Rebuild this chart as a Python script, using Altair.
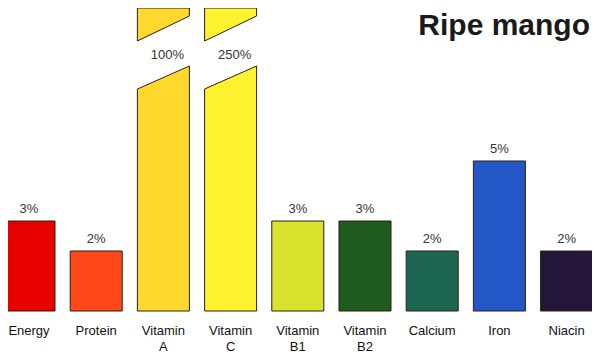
import altair as alt
import pandas as pd

# ---- data ----
nutrients = ["Energy", "Protein", "Vitamin\nA", "Vitamin\nC", "Vitamin\nB1",
             "Vitamin\nB2", "Calcium", "Iron", "Niacin"]
percent = [3, 2, 100, 250, 3, 3, 2, 5, 2]
bar_colors = ["#e60000", "#ff4719", "#ffd82e", "#fff22e", "#d9e22c",
              "#1f5a1f", "#1d6651", "#2356c6", "#22173a"]
title_text = "Ripe mango"

# ---- layout / style constants ----
W, H = 584, 349
BASE_PX = 303          # pixel row of the zero line
PPU = 30.0             # pixels per percent
CAP = 10               # values above this are drawn as broken bars
HALF = 0.387           # half bar width in index units
X_DOMAIN = [-0.3125, 8.378]
Y_DOMAIN = [-(H - BASE_PX) / PPU, BASE_PX / PPU]
BREAK_LOW = (7.4, 8.1667)     # top of lower piece (left, right)
BREAK_UP = (9.0, 9.8333)      # bottom of upper piece (left, right)
GAP_LABEL = 8.53
FONT = "Liberation Sans"
STROKE = "#2a2010"

df = pd.DataFrame({"name": nutrients, "pct": percent})
df["i"] = range(len(df))
df["x0"] = df["i"] - HALF
df["x1"] = df["i"] + HALF
df["label"] = df["pct"].astype(str) + "%"

normal = df[df["pct"] <= CAP]
broken = df[df["pct"] > CAP]

rows = []
for _, r in broken.iterrows():
    rows.append({"name": r["name"], "piece": r["name"] + "-low", "x": r["x0"], "y": BREAK_LOW[0], "y2": 0})
    rows.append({"name": r["name"], "piece": r["name"] + "-low", "x": r["x1"], "y": BREAK_LOW[1], "y2": 0})
    rows.append({"name": r["name"], "piece": r["name"] + "-up", "x": r["x0"], "y": Y_DOMAIN[1], "y2": BREAK_UP[0]})
    rows.append({"name": r["name"], "piece": r["name"] + "-up", "x": r["x1"], "y": Y_DOMAIN[1], "y2": BREAK_UP[1]})
pieces = pd.DataFrame(rows)
broken_lab = broken.assign(ly=GAP_LABEL)

xs = alt.Scale(domain=X_DOMAIN, nice=False, zero=False)
ys = alt.Scale(domain=Y_DOMAIN, nice=False, zero=False)
cs = alt.Scale(domain=nutrients, range=bar_colors)

bars = alt.Chart(normal).mark_rect(stroke=STROKE, strokeWidth=1).encode(
    x=alt.X("x0:Q", scale=xs, axis=None),
    x2="x1:Q",
    y=alt.Y("pct:Q", scale=ys, axis=None),
    y2=alt.datum(0),
    color=alt.Color("name:N", scale=cs, legend=None),
)

areas = alt.Chart(pieces).mark_area(stroke=STROKE, strokeWidth=1, opacity=1).encode(
    x=alt.X("x:Q", scale=xs, axis=None),
    y=alt.Y("y:Q", scale=ys, axis=None, stack=None),
    y2="y2:Q",
    color=alt.Color("name:N", scale=cs, legend=None),
    detail="piece:N",
)

val_labels = alt.Chart(normal).mark_text(
    font=FONT, fontSize=13, color="#333333", baseline="middle", dy=-12
).encode(
    x=alt.X("i:Q", scale=xs, axis=None),
    y=alt.Y("pct:Q", scale=ys, axis=None),
    text="label:N",
)

gap_labels = alt.Chart(broken_lab).mark_text(
    font=FONT, fontSize=13, color="#333333", baseline="middle", dx=4
).encode(
    x=alt.X("i:Q", scale=xs, axis=None),
    y=alt.Y("ly:Q", scale=ys, axis=None),
    text="label:N",
)

cat_labels = alt.Chart(df).mark_text(
    font=FONT, fontSize=13, color="#111111", baseline="top", lineBreak="\n", lineHeight=16
).encode(
    x=alt.X("i:Q", scale=xs, axis=None),
    y=alt.value(317),
    text="name:N",
)

title = alt.Chart(pd.DataFrame({"t": [title_text]})).mark_text(
    font=FONT, fontSize=30, fontWeight="bold", color="#1a1a1a", align="right", baseline="alphabetic"
).encode(
    x=alt.value(582), y=alt.value(27), text="t:N"
)

chart = alt.layer(bars, areas, val_labels, gap_labels, cat_labels, title).properties(
    width=W, height=H,
    autosize=alt.AutoSizeParams(type="none"),
    padding=0,
    background="white",
).configure_view(stroke=None)

chart.save("out.html", embed_options={"renderer": "svg", "actions": False})
